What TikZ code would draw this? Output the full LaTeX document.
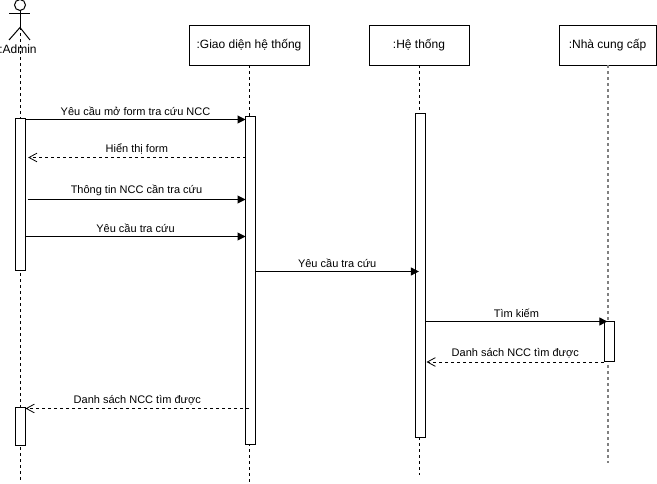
\documentclass[tikz,border=0pt]{standalone}
\usepackage{fontspec}
\setmainfont{Liberation Sans}
\usetikzlibrary{arrows.meta, positioning}
\tikzset{
  objbox/.style={draw, line width=0.75pt, inner sep=0pt, outer sep=0pt, minimum height=30pt, font=\fontsize{9}{11}\selectfont},
  actbar/.style={draw, fill=white, line width=0.75pt, inner sep=0pt, outer sep=0pt, minimum width=7.5pt, minimum height=#1},
  lifeline/.style={dash pattern=on 2.25pt off 2.25pt, line width=0.75pt},
  callarr/.style={-{Triangle[length=6pt, width=6pt]}, line width=0.75pt},
  backarr/.style={-{Straight Barb[length=6pt, width=6.5pt]}, dash pattern=on 2.25pt off 2.25pt, line width=0.6pt},
  msg/.style={midway, above=1.5pt, inner sep=1pt, font=\fontsize{8.25}{10}\selectfont},
}
\begin{document}
\begin{tikzpicture}[x=0.75pt, y=-0.75pt]
    \useasboundingbox (0,0) rectangle (657,484);
    % objects
    \node[objbox, minimum width=90pt] (giao) at (249,45.5) {:Giao diện hệ thống};
    \node[objbox, minimum width=75pt, right=45pt of giao] (ht) {:Hệ thống};
    \node[objbox, minimum width=72.75pt, right=67.5pt of ht] (ncc) {:Nhà cung cấp};
    % actor
    \node[draw, circle, line width=0.75pt, inner sep=0pt, outer sep=0pt, minimum size=8.25pt] (head) at (20,5) {};
    \draw[line width=0.75pt] (head.south) -- ++(0,17) coordinate (hip);
    \draw[line width=0.75pt] (9,14) -- (30,14);
    \draw[line width=0.75pt] (9,40) -- (hip) -- (30,40);
    \node[font=\fontsize{9}{11}\selectfont, inner sep=0pt] (admin) at (18,49) {:Admin};
    % lifelines
    \coordinate (endA) at (20,482);
    \coordinate (endG) at (249,482);
    \coordinate (endH) at (419,475);
    \coordinate (endN) at (608,463);
    \draw[lifeline] (hip) -- (endA);
    \draw[lifeline] (giao) ++(0,20) -- (endG);
    \draw[lifeline] (ht) ++(0,20) -- (endH);
    \draw[lifeline, gray, line width=1.1pt] (endN |- ncc.south) -- (endN);
    % bars
    \node[actbar=114pt] (barA) at (20.5,194.5) {};
    \node[actbar=28.5pt] (barB) at (20.5,427) {};
    \node[actbar=246pt] (barG) at (250.5,280.5) {};
    \node[actbar=243pt] (barH) at (420.5,275.5) {};
    \node[actbar=30pt] (barN) at (609,341.5) {};
    % messages
    \draw[callarr] (barA.east |- 0,119.5) -- (barG.west |- 0,119.5) node[msg] (m1) {Yêu cầu mở form tra cứu NCC};
    \draw[backarr] (barG.west |- 0,157.5) -- ([xshift=2pt]barA.east |- 0,157.5) node[msg] (m2) {Hiển thị form};
    \draw[callarr] ([xshift=1.5pt]barA.east |- 0,199.5) -- (barG.west |- 0,199.5) node[msg] (m3) {Thông tin NCC cần tra cứu};
    \draw[callarr] (barA.east |- 0,236.5) -- (barG.west |- 0,236.5) node[msg] (m4) {Yêu cầu tra cứu};
    \draw[callarr] (barG.east |- 0,271.5) -- ([xshift=2.5pt]barH.west |- 0,271.5) node[msg] (m5) {Yêu cầu tra cứu};
    \draw[callarr] (barH.east |- 0,321.5) -- ([xshift=2.5pt]barN.west |- 0,321.5) node[msg] (m6) {Tìm kiếm};
    \draw[backarr] (barN.west |- 0,362) -- ([xshift=.75pt]barH.east |- 0,362) node[msg] (m7) {Danh sách NCC tìm được};
    \draw[backarr] (249,408.5) -- (barB.east |- 0,408.5) node[msg] (m8) {Danh sách NCC tìm được};
  \end{tikzpicture}
\end{document}
